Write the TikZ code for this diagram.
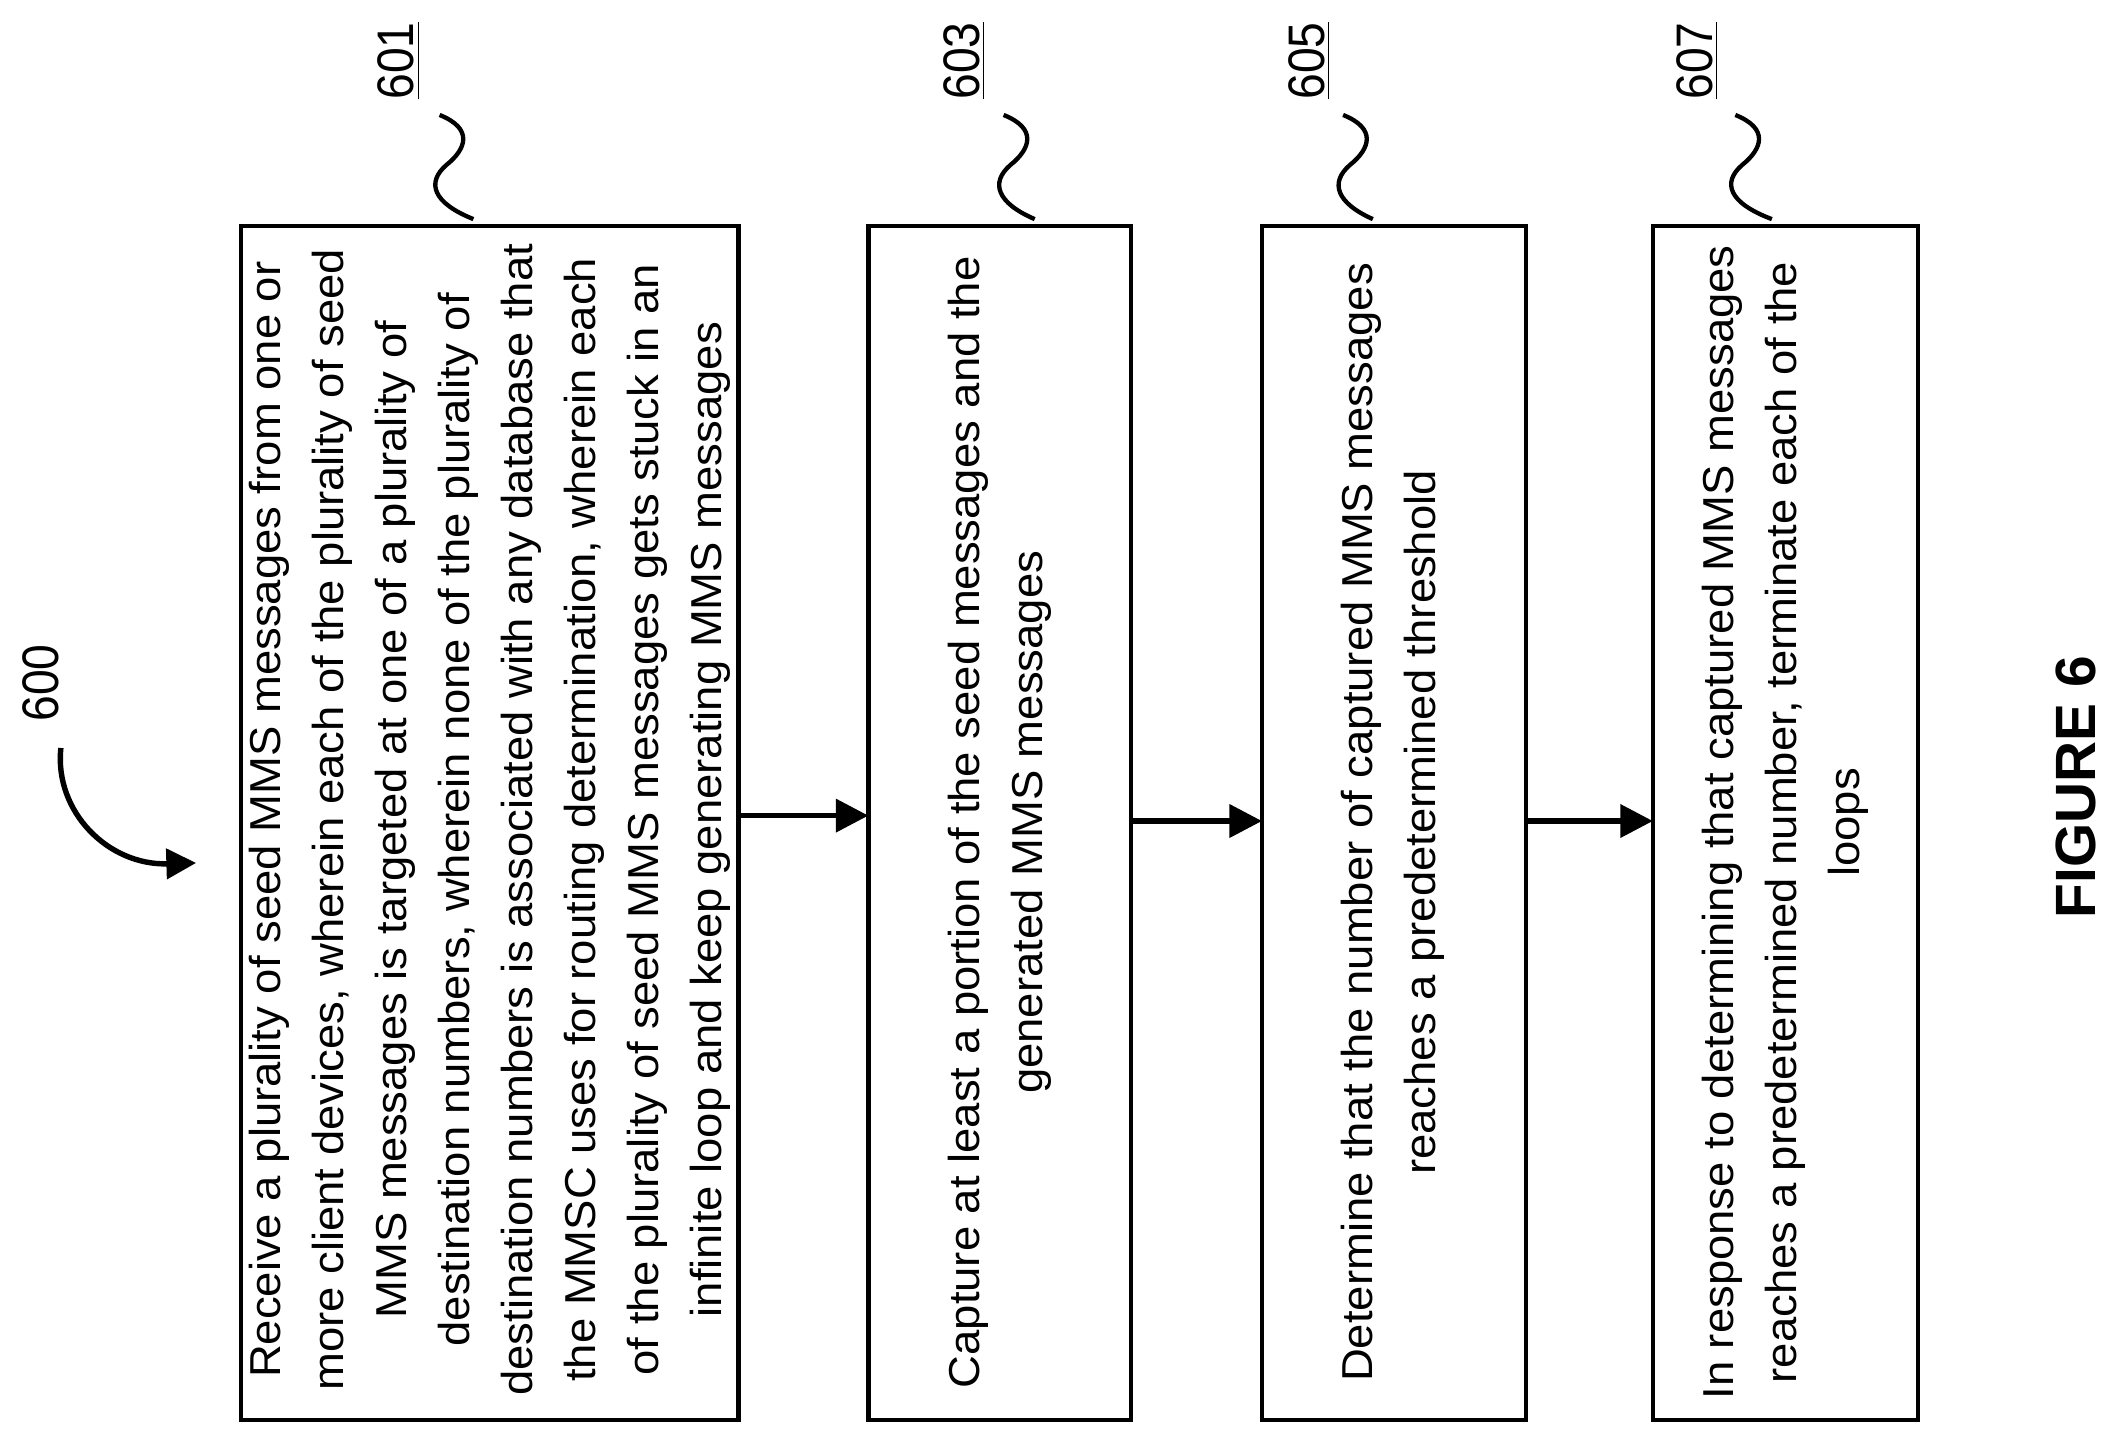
\documentclass[tikz,border=0pt]{standalone}
\usepackage{fontspec}
\setmainfont{Liberation Sans}
\usetikzlibrary{arrows.meta}
\begin{document}
\begin{tikzpicture}[x=0.5pt,y=-0.5pt,
  box/.style={draw,line width=1.6pt},
  txt/.style={rotate=90,xscale=1.05,align=center,font=\fontsize{16}{23.3}\selectfont,inner sep=0pt},
  arr/.style={line width=2pt,-{Triangle[length=12pt,width=12pt]}},
  sq/.style={line width=1.6pt},
  lab/.style={rotate=90,xscale=0.9,font=\fontsize{19}{22}\selectfont,inner sep=1pt}]
\useasboundingbox (0,0) rectangle (1560,1061);
\draw[box] (178,167) rectangle (546,1050);
\draw[box] (642,167) rectangle (836,1050);
\draw[box] (933,167) rectangle (1128,1050);
\draw[box] (1222,167) rectangle (1418,1050);
\node[txt] (t1) at (362,606) {Receive a plurality of seed MMS messages from one or\\ more client devices, wherein each of the plurality of seed\\ MMS messages is targeted at one of a plurality of\\ destination numbers, wherein none of the plurality of\\ destination numbers is associated with any database that\\ the MMSC uses for routing determination, wherein each\\ of the plurality of seed MMS messages gets stuck in an\\ infinite loop and keep generating MMS messages};
\node[txt] (t2) at (739,608) {Capture at least a portion of the seed messages and the\\ generated MMS messages};
\node[txt] (t3) at (1030,608) {Determine that the number of captured MMS messages\\ reaches a predetermined threshold};
\node[txt] (t4) at (1320,608) {In response to determining that captured MMS messages\\ reaches a predetermined number, terminate each of the\\ loops};
\coordinate (a1) at (546,603); \coordinate (a2) at (642,603);
\coordinate (a3) at (836,607); \coordinate (a4) at (933,607);
\coordinate (a5) at (1128,607); \coordinate (a6) at (1222,607);
\draw[arr] (a1) -- (a2);
\draw[arr] (a3) -- (a4);
\draw[arr] (a5) -- (a6);
\node[lab] (l601) at (295,45) {\underline{601}};
\node[lab] (l603) at (713,45) {\underline{603}};
\node[lab] (l605) at (968,45) {\underline{605}};
\node[lab] (l607) at (1255,45) {\underline{607}};
\foreach \x/\y in {325/350,742/765,993/1015,1283/1310}{
  \draw[sq] (\x,85) .. controls (\x+25,95) and (\x+20,110) .. (\x+5,122)
     .. controls (\x-10,135) and (\x-5,150) .. (\y,162);
}
\node[lab] (l600) at (30,505) {600};
\coordinate (c1) at (45,553); \coordinate (c2) at (145,638);
\draw[line width=2pt,-{Triangle[length=11pt,width=11pt]}] (c1) .. controls (40,600) and (80,640) .. (c2);
\node[rotate=90,font=\bfseries\fontsize{21}{24}\selectfont] (fig) at (1535,582) {FIGURE 6};
\end{tikzpicture}
\end{document}
